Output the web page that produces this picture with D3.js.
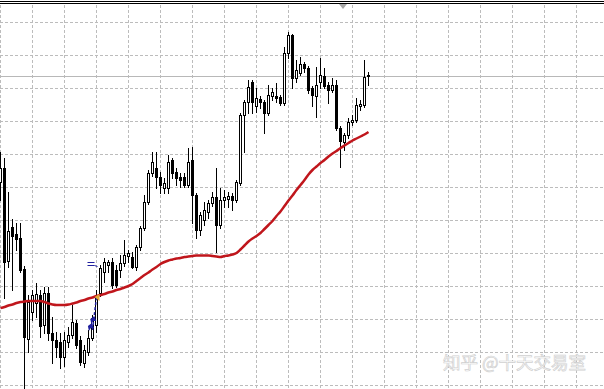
<!DOCTYPE html>
<html>
<head>
<meta charset="utf-8">
<script src="https://cdn.jsdelivr.net/npm/d3@7"></script>
<style>
  html, body { margin: 0; padding: 0; background: #fff; }
  svg { display: block; }
</style>
</head>
<body>
<svg id="chart" width="604" height="389"></svg>
<script>
// bar data, one entry per candle (oldest first)
const opens = [1.3218,1.3232,1.3139,1.3173,1.3166,1.3162,1.3131,1.3061,1.3088,1.3097,
  1.3105,1.3075,1.3107,1.3067,1.3060,1.3058,1.3043,1.3058,1.3065,1.3077,
  1.3060,1.3037,1.3048,1.3062,1.3075,1.3107,1.3128,1.3135,1.3138,1.3130,
  1.3130,1.3137,1.3144,1.3143,1.3133,1.3153,1.3172,1.3198,1.3227,1.3232,
  1.3223,1.3212,1.3212,1.3240,1.3228,1.3223,1.3223,1.3215,1.3240,1.3205,
  1.3170,1.3180,1.3188,1.3197,1.3203,1.3175,1.3200,1.3201,1.3204,1.3200,
  1.3217,1.3285,1.3298,1.3318,1.3294,1.3301,1.3298,1.3287,1.3304,1.3304,
  1.3303,1.3297,1.3347,1.3365,1.3322,1.3327,1.3336,1.3332,1.3312,1.3304,
  1.3318,1.3324,1.3315,1.3310,1.3315,1.3272,1.3258,1.3265,1.3278,1.3280,
  1.3294,1.3295,1.3325];
const highs = [1.3248,1.3242,1.3208,1.3181,1.3177,1.3177,1.3134,1.3105,1.3110,1.3117,
  1.3110,1.3113,1.3113,1.3083,1.3068,1.3067,1.3068,1.3073,1.3095,1.3080,
  1.3064,1.3055,1.3070,1.3085,1.3110,1.3135,1.3142,1.3140,1.3142,1.3135,
  1.3145,1.3160,1.3150,1.3148,1.3155,1.3174,1.3205,1.3230,1.3248,1.3248,
  1.3228,1.3222,1.3245,1.3242,1.3232,1.3227,1.3227,1.3252,1.3253,1.3207,
  1.3188,1.3198,1.3200,1.3208,1.3232,1.3212,1.3210,1.3208,1.3207,1.3220,
  1.3287,1.3300,1.3320,1.3320,1.3312,1.3304,1.3300,1.3315,1.3312,1.3317,
  1.3305,1.3353,1.3368,1.3366,1.3340,1.3343,1.3338,1.3334,1.3314,1.3333,
  1.3342,1.3332,1.3318,1.3322,1.3320,1.3274,1.3267,1.3282,1.3285,1.3302,
  1.3300,1.3340,1.3328];
const lows = [1.3200,1.3102,1.3133,1.3110,1.3150,1.3128,1.3008,1.3048,1.3080,1.3083,
  1.3063,1.3067,1.3060,1.3037,1.3043,1.3032,1.3034,1.3053,1.3062,1.3052,
  1.3035,1.3033,1.3045,1.3060,1.3068,1.3104,1.3118,1.3128,1.3112,1.3113,
  1.3123,1.3134,1.3138,1.3132,1.3130,1.3150,1.3170,1.3196,1.3224,1.3212,
  1.3207,1.3207,1.3207,1.3222,1.3215,1.3213,1.3213,1.3213,1.3177,1.3162,
  1.3165,1.3175,1.3182,1.3194,1.3148,1.3172,1.3193,1.3193,1.3190,1.3198,
  1.3215,1.3248,1.3287,1.3287,1.3288,1.3292,1.3267,1.3285,1.3300,1.3298,
  1.3295,1.3295,1.3342,1.3312,1.3318,1.3325,1.3328,1.3307,1.3294,1.3283,
  1.3312,1.3312,1.3297,1.3308,1.3270,1.3233,1.3250,1.3262,1.3275,1.3278,
  1.3290,1.3293,1.3315];
const closes = [1.3232,1.3138,1.3169,1.3164,1.3161,1.3130,1.3063,1.3098,1.3105,1.3106,
  1.3074,1.3107,1.3067,1.3060,1.3053,1.3043,1.3060,1.3065,1.3078,1.3055,
  1.3038,1.3050,1.3062,1.3082,1.3105,1.3132,1.3138,1.3138,1.3115,1.3115,
  1.3137,1.3145,1.3147,1.3133,1.3153,1.3172,1.3198,1.3227,1.3238,1.3223,
  1.3215,1.3217,1.3238,1.3227,1.3222,1.3220,1.3215,1.3238,1.3205,1.3170,
  1.3185,1.3190,1.3197,1.3203,1.3175,1.3200,1.3203,1.3204,1.3200,1.3218,
  1.3285,1.3298,1.3313,1.3298,1.3302,1.3298,1.3287,1.3305,1.3308,1.3302,
  1.3297,1.3347,1.3365,1.3322,1.3330,1.3336,1.3332,1.3310,1.3305,1.3315,
  1.3325,1.3314,1.3310,1.3315,1.3272,1.3259,1.3265,1.3278,1.3280,1.3295,
  1.3296,1.3323,1.3324];

// moving average (red line), one value per candle
const maValues = [1.3092,1.3093,1.30945,1.30955,1.3097,1.3098,1.30985,1.3099,1.3099,1.3099,
  1.3099,1.3098,1.30965,1.30955,1.3095,1.3095,1.3095,1.30955,1.30965,1.30975,
  1.3099,1.3100,1.31015,1.31025,1.3104,1.3105,1.3106,1.31075,1.31085,1.3110,
  1.3111,1.31125,1.3114,1.3116,1.3119,1.3122,1.3125,1.31275,1.31305,1.3133,
  1.3136,1.3138,1.31395,1.31405,1.31415,1.3142,1.3143,1.31435,1.3144,1.31445,
  1.31445,1.31445,1.31445,1.3144,1.31435,1.3143,1.3144,1.31445,1.31455,1.3147,
  1.31505,1.31545,1.31585,1.31615,1.3164,1.3167,1.3171,1.3175,1.3179,1.3184,
  1.31885,1.3194,1.31995,1.32045,1.3210,1.3215,1.3220,1.32255,1.3230,1.32335,
  1.3237,1.3240,1.32435,1.32465,1.3249,1.3252,1.32545,1.3257,1.32595,1.32615,
  1.32635,1.32655,1.3268];

// trade marks drawn by the terminal (bar index, price)
const orderLevel = {from: 22, to: 24, price: 1.3135};
const tradePath = [[23, 1.3070], [24, 1.3103]];
const buyArrows = [[22.6, 1.3073], [23.2, 1.3080]];
const watermark = "知乎 @十天交易室";

const width = 604, height = 389;
const svg = d3.select("#chart");

const xScale = d3.scaleLinear().domain([0, 150]).range([0.5, 600.5]);
const yScale = d3.scaleLinear().domain([1.3011, 1.3400]).range([height, 0]);

// grid
const gridPrices = d3.range(12).map(k => 1.3378 - 0.0033 * k);
const gridBars = d3.range(0, 151, 8);
const grid = svg.append("g")
    .attr("stroke", "#bcbcbc")
    .attr("stroke-dasharray", "3,2")
    .attr("shape-rendering", "crispEdges");
grid.selectAll("line.h")
    .data(gridPrices)
    .enter()
    .append("line")
    .attr("class", "h")
    .attr("x1", 0).attr("x2", width)
    .attr("y1", d => Math.round(yScale(d)) + 0.5)
    .attr("y2", d => Math.round(yScale(d)) + 0.5);
grid.selectAll("line.v")
    .data(gridBars)
    .enter()
    .append("line")
    .attr("class", "v")
    .attr("y1", 5).attr("y2", height)
    .attr("x1", d => xScale(d))
    .attr("x2", d => xScale(d));

// watermark (light embossed text)
const wm = svg.append("g")
    .attr("font-family", "'Noto Sans CJK SC', sans-serif")
    .attr("font-size", 17.5);
wm.append("text")
    .attr("x", 443).attr("y", 369)
    .attr("fill", "#ffffff")
    .attr("stroke", "#d0d0d0")
    .attr("stroke-width", 0.7)
    .text(watermark);

// bid line (last close)
svg.append("line")
    .attr("x1", 0).attr("x2", width)
    .attr("y1", Math.round(yScale(closes[closes.length - 1])) + 0.5)
    .attr("y2", Math.round(yScale(closes[closes.length - 1])) + 0.5)
    .attr("stroke", "#b8b8b8")
    .attr("shape-rendering", "crispEdges");

// top frame
[1.5, 3.5].forEach(y => {
    svg.append("line")
        .attr("x1", 0).attr("x2", width)
        .attr("y1", y).attr("y2", y)
        .attr("stroke", "#000")
        .attr("shape-rendering", "crispEdges");
});
svg.append("path")
    .attr("d", "M339,4L347,4L343,9Z")
    .attr("fill", "#a8a8a8");

// candles
const bars = d3.range(opens.length).map(i => ({
    i: i, o: opens[i], h: highs[i], l: lows[i], c: closes[i]
}));
const candles = svg.append("g").attr("shape-rendering", "crispEdges");
bars.forEach(d => {
    const cx = xScale(d.i);
    const yo = Math.round(yScale(d.o));
    const yc = Math.round(yScale(d.c));
    const yh = Math.round(yScale(d.h));
    const yl = Math.round(yScale(d.l));

    candles.append("line")
        .attr("x1", cx).attr("x2", cx)
        .attr("y1", yh).attr("y2", yl + 1)
        .attr("stroke", "#000");

    if (d.c < d.o) {
        candles.append("rect")
            .attr("x", cx - 1.5)
            .attr("y", yo)
            .attr("width", 3)
            .attr("height", Math.max(1, yc - yo + 1))
            .attr("fill", "#000");
    } else {
        const top = yc, bot = yo;
        if (bot - top < 2) {
            candles.append("rect")
                .attr("x", cx - 1.5).attr("y", top)
                .attr("width", 3).attr("height", Math.max(1, bot - top + 1))
                .attr("fill", "#000");
        } else {
            candles.append("rect")
                .attr("x", cx - 1)
                .attr("y", top + 0.5)
                .attr("width", 2)
                .attr("height", bot - top)
                .attr("fill", "#fff")
                .attr("stroke", "#000");
        }
    }
});

// moving average
const maLine = d3.line()
    .x((d, i) => xScale(i))
    .y(d => yScale(d))
    .curve(d3.curveMonotoneX);
svg.append("path")
    .datum(maValues)
    .attr("d", maLine)
    .attr("fill", "none")
    .attr("stroke", "#c0161c")
    .attr("stroke-width", 2.5)
    .attr("stroke-linejoin", "round");

// trade marks
const navy = "#1f1f9e";
const oy = Math.round(yScale(orderLevel.price)) + 0.5;
[0, 3].forEach(dy => {
    svg.append("line")
        .attr("x1", xScale(orderLevel.from) - 1).attr("x2", xScale(orderLevel.from) + 6)
        .attr("y1", oy - 3 + dy).attr("y2", oy - 3 + dy)
        .attr("stroke", navy);
});
svg.append("line")
    .attr("x1", xScale(orderLevel.from) + 6).attr("x2", xScale(orderLevel.to) + 1)
    .attr("y1", oy).attr("y2", oy + 1)
    .attr("stroke", navy);

svg.append("line")
    .attr("x1", xScale(tradePath[0][0])).attr("y1", yScale(tradePath[0][1]))
    .attr("x2", xScale(tradePath[1][0])).attr("y2", yScale(tradePath[1][1]))
    .attr("stroke", navy)
    .attr("stroke-width", 1.5)
    .attr("stroke-dasharray", "3,2");

buyArrows.forEach(a => {
    const x = xScale(a[0]), y = yScale(a[1]);
    svg.append("path")
        .attr("d", `M${x - 3},${y - 1}L${x + 1},${y - 4}L${x + 3},${y + 1}L${x},${y + 1}L${x - 2},${y + 4}Z`)
        .attr("fill", navy);
});

const tx = xScale(tradePath[1][0]) + 1, ty = yScale(tradePath[1][1]);
svg.append("path")
    .attr("d", `M${tx - 3},${ty}L${tx + 2},${ty - 3}L${tx + 2},${ty + 4}Z`)
    .attr("fill", "#e0a838");
</script>
</body>
</html>
